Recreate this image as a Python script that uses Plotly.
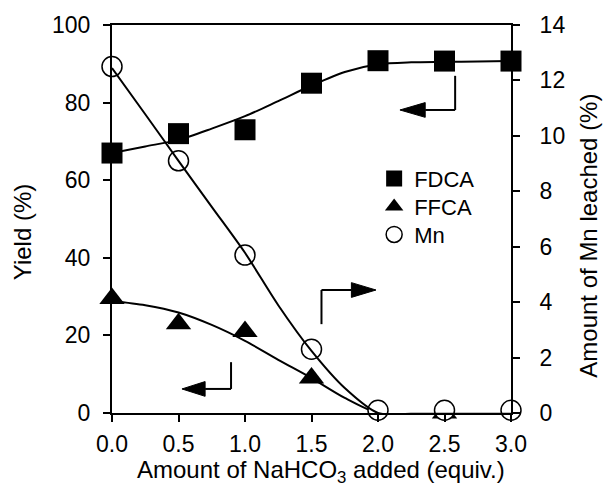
import plotly.graph_objects as go

# ---- data ----
x_equiv = [0.0, 0.5, 1.0, 1.5, 2.0, 2.5, 3.0]
fdca_yield = [67.0, 72.0, 73.0, 85.0, 90.8, 90.7, 90.7]
ffca_yield = [29.5, 23.0, 21.0, 9.0, -0.5, 0.0, -1.0]
mn_leached = [12.5, 9.1, 5.7, 2.3, 0.1, 0.1, 0.1]

# smooth trend lines
x_fit = [0.0, 0.25, 0.5, 0.75, 1.0, 1.25, 1.5, 1.75, 2.0, 2.25, 2.5, 2.75, 3.0]
fdca_fit = [67.0, 68.7, 70.4, 73.3, 76.5, 80.4, 84.4, 87.9, 89.9, 90.4, 90.5, 90.6, 90.7]
ffca_fit = [28.9, 27.8, 25.9, 22.7, 18.6, 13.7, 9.0, 3.9, 0.0, -0.3, -0.3, -0.3, -0.3]
mn_fit = [12.45, 10.78, 9.1, 7.44, 5.78, 3.89, 2.24, 0.9, 0.0, -0.03, -0.03, -0.03, -0.03]

x_ticks = [0.0, 0.5, 1.0, 1.5, 2.0, 2.5, 3.0]
x_tick_labels = ["0.0", "0.5", "1.0", "1.5", "2.0", "2.5", "3.0"]

FONT = "Arial, 'Liberation Sans', sans-serif"
FS = 23

fig = go.Figure()

# trend lines (left axis)
fig.add_trace(go.Scatter(x=x_fit, y=fdca_fit, mode="lines", line=dict(color="black", width=2, shape="spline", smoothing=0.8),
                         showlegend=False, hoverinfo="skip"))
fig.add_trace(go.Scatter(x=x_fit, y=ffca_fit, mode="lines", line=dict(color="black", width=2, shape="spline", smoothing=0.8),
                         showlegend=False, hoverinfo="skip"))

# markers (left axis)
fig.add_trace(go.Scatter(x=x_equiv, y=fdca_yield, mode="markers", name="FDCA", legend="legend",
                         marker=dict(symbol="square", size=21, color="black"), cliponaxis=False))
fig.add_trace(go.Scatter(x=x_equiv, y=ffca_yield, mode="markers", name="FFCA", legend="legend2",
                         marker=dict(symbol="triangle-up", size=22, color="black"), cliponaxis=False))

# Mn (right axis)
fig.add_trace(go.Scatter(x=x_equiv, y=mn_leached, mode="markers", name="Mn", yaxis="y2", legend="legend3",
                         marker=dict(symbol="circle", size=20, color="white", line=dict(color="black", width=1.5)),
                         cliponaxis=False))
fig.add_trace(go.Scatter(x=x_fit, y=mn_fit, mode="lines", yaxis="y2",
                         line=dict(color="black", width=2, shape="spline", smoothing=0.8),
                         showlegend=False, hoverinfo="skip"))

# bent arrows (decorations) in data coordinates
def bent_arrow(xv, y0, y1, xbase, xtip, hh):
    return [
        dict(type="line", xref="x", yref="y", x0=xv, y0=y0, x1=xv, y1=y1, line=dict(color="black", width=2)),
        dict(type="line", xref="x", yref="y", x0=xv, y0=y1, x1=xbase, y1=y1, line=dict(color="black", width=2)),
        dict(type="path", xref="x", yref="y",
             path=f"M {xtip},{y1} L {xbase},{y1 + hh} L {xbase},{y1 - hh} Z",
             fillcolor="black", line=dict(color="black", width=1)),
    ]

shapes = []
shapes += bent_arrow(2.58, 86.9, 78.1, 2.355, 2.165, 1.9)
shapes += bent_arrow(0.895, 13.1, 6.2, 0.70, 0.526, 1.9)
shapes += bent_arrow(1.575, 22.9, 31.7, 1.80, 1.985, 1.9)

annotations = [
    dict(text="Amount of NaHCO<sub>3</sub> added (equiv.)", xref="paper", yref="paper",
         x=0.525, y=-0.152, xanchor="center", yanchor="middle", showarrow=False,
         font=dict(family=FONT, size=24, color="black")),
    dict(text="Yield (%)", xref="paper", yref="paper", x=-0.2256, y=0.466, textangle=-90,
         xanchor="center", yanchor="middle", showarrow=False, font=dict(family=FONT, size=24, color="black")),
    dict(text="Amount of Mn leached (%)", xref="paper", yref="paper", x=1.192, y=0.456, textangle=-90,
         xanchor="center", yanchor="middle", showarrow=False, font=dict(family=FONT, size=24, color="black")),
]

axis_common = dict(showline=True, linecolor="black", linewidth=2, ticks="outside", ticklen=7, tickwidth=2,
                   tickcolor="black", showgrid=False, zeroline=False,
                   tickfont=dict(family=FONT, size=FS, color="black"))

def leg(ypx):
    # legend row whose text centre sits at page pixel ypx
    return dict(x=0.657, y=(413 - ypx) / 388 + 0.055, xanchor="left", yanchor="top",
                bgcolor="rgba(0,0,0,0)", font=dict(family=FONT, size=FS - 1, color="black"), itemwidth=30)

fig.update_layout(
    width=603, height=492,
    margin=dict(l=112, r=92, t=25, b=79),
    paper_bgcolor="white", plot_bgcolor="white",
    font=dict(family=FONT, size=FS, color="black"),
    xaxis=dict(range=[0, 3], tickvals=x_ticks, ticktext=x_tick_labels, mirror=True, ticklabelstandoff=2, **axis_common),
    yaxis=dict(range=[0, 100], dtick=20, ticklabelstandoff=8, **axis_common),
    yaxis2=dict(range=[0, 14], dtick=2, overlaying="y", side="right", ticklabelstandoff=15, **axis_common),
    legend=leg(179), legend2=leg(207), legend3=leg(235),
    shapes=shapes,
    annotations=annotations,
    showlegend=True,
)

fig.write_html("out.html", config={"displayModeBar": False},
               post_script="document.body.style.margin='0px';document.body.style.padding='0px';")
